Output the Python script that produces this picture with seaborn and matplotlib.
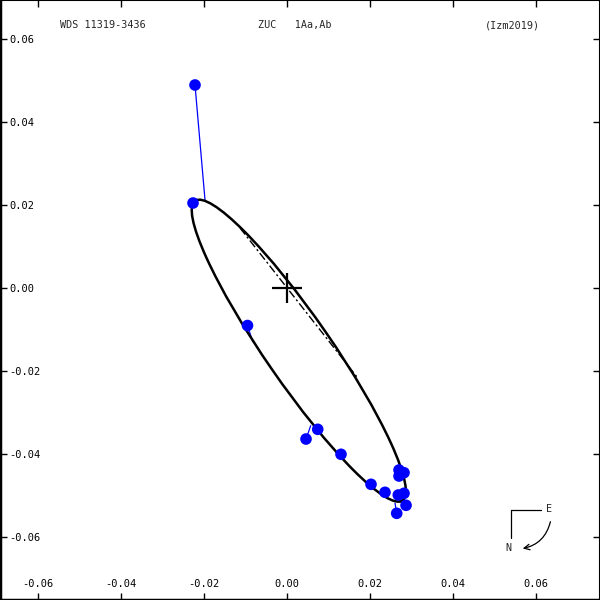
import numpy as np
import matplotlib
matplotlib.use('Agg')
import matplotlib.pyplot as plt
import seaborn as sns
import pandas as pd
from matplotlib.patches import Ellipse, FancyArrowPatch

# observed positions (arcsec)
obs_x = [-0.02205, -0.02253, -0.00940, 0.00470, 0.00752, 0.01313, 0.02036, 0.02373,
         0.02711, 0.02831, 0.02711, 0.02694, 0.02831, 0.02880, 0.02655]
obs_y = [0.04880, 0.02036, -0.00916, -0.03651, -0.03417, -0.04019, -0.04742, -0.04935,
         -0.04398, -0.04463, -0.04542, -0.05000, -0.04959, -0.05248, -0.05441]
# predicted positions on the orbit (ends of residual lines)
pred_x = [-0.01964, -0.02180, -0.00814, 0.00583, 0.00687, 0.01313, 0.02036, 0.02398,
          0.02807, 0.02831, 0.02807, 0.02735, 0.02855, 0.02855, 0.02614]
pred_y = [0.02108, 0.02080, -0.01306, -0.03330, -0.03386, -0.03964, -0.04783, -0.05000,
          -0.04349, -0.04446, -0.04542, -0.05181, -0.05048, -0.05169, -0.05193]

# apparent orbit ellipse
orbit_center = (0.00296, -0.01522)
orbit_semi_major = 0.04390
orbit_semi_minor = 0.00788
orbit_angle = -55.33

# line of nodes
node_x = [-0.01120, 0.01699]
node_y = [0.01434, -0.02157]

tick_vals = [-0.06, -0.04, -0.02, 0.00, 0.02, 0.04, 0.06]
tick_labels = ['-0.06', '-0.04', '-0.02', '0.00', '0.02', '0.04', '0.06']

title_left = 'WDS 11319-3436'
title_mid = 'ZUC   1Aa,Ab'
title_right = '(Izm2019)'

sns.set_style('white')
plt.rcParams['font.family'] = ['DejaVu Sans Mono']
plt.rcParams['font.size'] = 7

fig = plt.figure(figsize=(6, 6), dpi=100)
ax = fig.add_axes([0, 0, 1, 1])
ax.set_xlim(-0.06904, 0.07554)
ax.set_ylim(-0.0753, 0.06928)

for s in ax.spines.values():
    s.set_color('black')
    s.set_linewidth(1.5)
ax.spines['left'].set_linewidth(2.5)
ax.spines['bottom'].set_linewidth(2.5)

ax.set_xticks(tick_vals)
ax.set_xticklabels(tick_labels)
ax.set_yticks(tick_vals)
ax.set_yticklabels(tick_labels, ha='left')
ax.tick_params(axis='x', direction='in', top=True, bottom=True, length=5, width=1,
               pad=-15, labelsize=7.5, colors='black')
ax.tick_params(axis='y', direction='in', left=True, right=True, length=5, width=1,
               pad=-6.5, labelsize=7.5, colors='black')

ell = Ellipse(orbit_center, 2*orbit_semi_major, 2*orbit_semi_minor,
              angle=orbit_angle, fill=False, color='black', lw=1.8, zorder=3)
ax.add_patch(ell)

ax.plot(node_x, node_y, color='black', lw=1.0, linestyle=(0, (6, 2, 1.5, 2)), zorder=3)

ax.plot([0], [0], marker='+', markersize=21, mew=1.6, color='black', zorder=4)

for x1, y1, x2, y2 in zip(obs_x, obs_y, pred_x, pred_y):
    ax.plot([x1, x2], [y1, y2], color='#0000FF', lw=0.9, zorder=2)
df = pd.DataFrame({'x': obs_x, 'y': obs_y})
sns.scatterplot(data=df, x='x', y='y', ax=ax, color='#0000FF', s=70,
                edgecolor='none', zorder=5, legend=False)
ax.set_xlabel('')
ax.set_ylabel('')

# header texts
fig.text(60/600, 1 - 25/600, title_left, ha='left', va='center', fontsize=7.3)
fig.text(258/600, 1 - 25/600, title_mid, ha='left', va='center', fontsize=7.3)
fig.text(540/600, 1 - 25/600, title_right, ha='right', va='center', fontsize=7.3)

# compass
fig.add_artist(plt.Line2D([511/600, 541/600], [1-510/600, 1-510/600], color='black', lw=0.9))
fig.add_artist(plt.Line2D([511/600, 511/600], [1-510/600, 1-538/600], color='black', lw=0.9))
fig.text(549/600, 1-509/600, 'E', ha='center', va='center', fontsize=7.3)
fig.text(508/600, 1-548/600, 'N', ha='center', va='center', fontsize=7.3)
arr = FancyArrowPatch((551/600, 1-519/600), (520/600, 1-549/600),
                      connectionstyle='arc3,rad=-0.35', arrowstyle='->,head_length=4,head_width=2',
                      color='black', lw=0.9, transform=fig.transFigure)
fig.add_artist(arr)

fig.savefig('out.png', dpi=100)
